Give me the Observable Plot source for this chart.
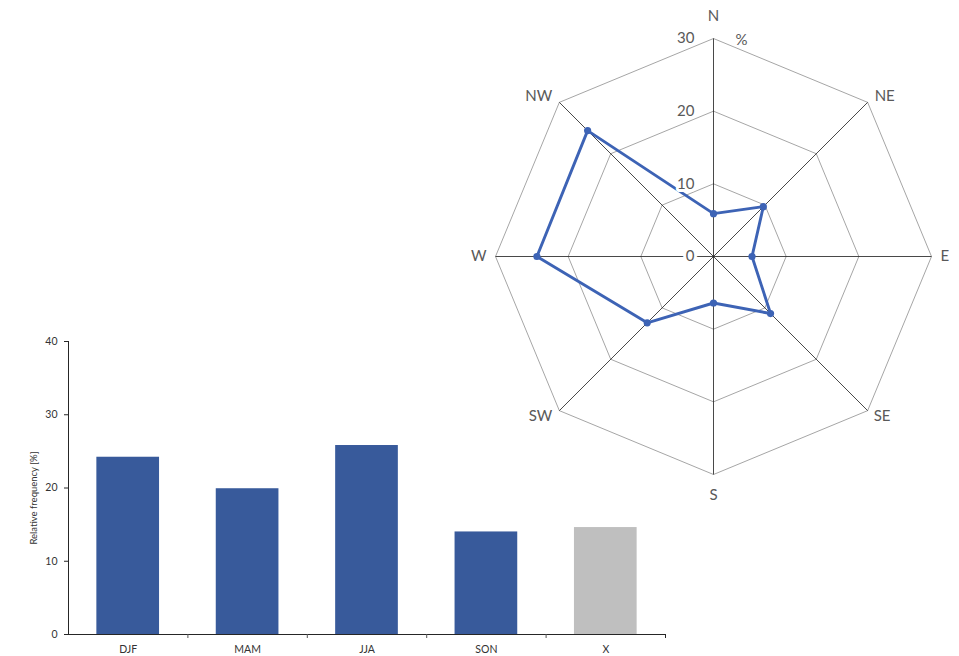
<!DOCTYPE html>
<html><head><meta charset="utf-8">
<script src="https://cdn.jsdelivr.net/npm/d3@7"></script>
<script src="https://cdn.jsdelivr.net/npm/@observablehq/plot@0.6"></script>
<style>
html,body{margin:0;padding:0;background:#fff;}
#wrap{position:relative;width:959px;height:656px;overflow:hidden;background:#fff;}
#bar{position:absolute;left:0;top:330px;}
#radar{position:absolute;left:440px;top:0;}
svg{overflow:visible;}
</style></head>
<body><div id="wrap"><div id="bar"></div><div id="radar"></div></div>
<script>
// ---- data ----
const directions = ["N", "NE", "E", "SE", "S", "SW", "W", "NW"];
const dirValues = [5.9, 9.7, 5.3, 11.1, 6.4, 12.9, 24.3, 24.5];
const ringLevels = [10, 20, 30];
const ringLabels = [0, 10, 20, 30];
const radarUnit = "%";

const seasons = ["DJF", "MAM", "JJA", "SON", "X"];
const seasonValues = [24.2, 19.9, 25.8, 14.0, 14.6];
const seasonColors = ["#385A9B", "#385A9B", "#385A9B", "#385A9B", "#BFBFBF"];
const yTicks = [0, 10, 20, 30, 40];
const yLabel = "Relative frequency [%]";

// ---- radar ----
const blue = "#3D63B5";
const ang = i => i * Math.PI / 4;
const polar = (v, i) => ({x: v * Math.sin(ang(i)), y: v * Math.cos(ang(i))});
const pts = directions.map((d, i) => ({dir: d, ...polar(dirValues[i], i)}));
const closed = pts.concat([pts[0]]);
const rings = ringLevels.flatMap(r =>
  directions.concat([directions[0]]).map((d, k) => ({ring: r, ...polar(r, k % 8)})));
const outer = ringLevels[ringLevels.length - 1];
const spokes = directions.map((d, i) => {
  const p = polar(outer, i);
  return {dir: d, x1: 0, y1: 0, x2: p.x, y2: p.y};
});
const labelStyle = {
  N: {textAnchor: "middle", dx: 0, dy: -22},
  NE: {textAnchor: "start", dx: 7, dy: -6},
  E: {textAnchor: "start", dx: 9, dy: 0},
  SE: {textAnchor: "start", dx: 6, dy: 6},
  S: {textAnchor: "middle", dx: 0, dy: 21},
  SW: {textAnchor: "end", dx: -7, dy: 6},
  W: {textAnchor: "end", dx: -9, dy: 0},
  NW: {textAnchor: "end", dx: -7, dy: -6}
};
const labelPts = directions.map((d, i) => ({dir: d, ...polar(outer, i)}));
const textCol = "#595959";
const font = "Lato, 'Open Sans', sans-serif";

const radar = Plot.plot({
  width: 519, height: 520,
  marginTop: 0, marginBottom: 0, marginLeft: 0, marginRight: 0,
  x: {domain: [-30, 30], range: [55, 491], axis: null},
  y: {domain: [-30, 30], range: [474, 38], axis: null},
  style: {background: "transparent", fontFamily: font, fontSize: "15px", overflow: "visible"},
  marks: [
    Plot.line(rings, {x: "x", y: "y", z: "ring", stroke: "#A6A6A6", strokeWidth: 1}),
    Plot.link(spokes, {x1: "x1", y1: "y1", x2: "x2", y2: "y2", stroke: "#1a1a1a", strokeWidth: 0.8}),
    Plot.line(closed, {x: "x", y: "y", stroke: blue, strokeWidth: 2.9, strokeLinejoin: "round"}),
    Plot.dot(pts, {x: "x", y: "y", r: 3.6, fill: blue, stroke: "none"}),
    Plot.text(ringLabels, {x: 0, y: d => d, text: d => String(d), textAnchor: "end", dx: -19,
      fill: textCol, stroke: "white", strokeWidth: 6, paintOrder: "stroke", fontSize: 15}),
    Plot.text([radarUnit], {x: 0, y: outer, text: d => d, dx: 28, dy: 2, fill: textCol, fontSize: 15}),
    ...labelPts.map(p => Plot.text([p], {x: "x", y: "y", text: "dir", fill: textCol, fontSize: 15,
      ...labelStyle[p.dir]}))
  ]
});
document.getElementById("radar").appendChild(radar);

// ---- bar chart ----
const bw = 680, bml = 68, bmr = 15;
const halfStep = (bw - bml - bmr) / seasons.length / 2;
const axisCol = "#262626";
const bars = Plot.plot({
  width: bw, height: 326,
  marginLeft: bml, marginRight: bmr, marginTop: 11, marginBottom: 22,
  x: {domain: seasons, paddingInner: 0.475, paddingOuter: 0.2375, round: false, axis: null},
  y: {domain: [0, 40], axis: null},
  color: {type: "identity"},
  style: {background: "transparent", fontFamily: font, fontSize: "10.5px", color: "#333", overflow: "visible"},
  marks: [
    Plot.barY(seasons, {x: d => d, y: (d, i) => seasonValues[i], fill: (d, i) => seasonColors[i]}),
    Plot.ruleY([0], {stroke: axisCol, strokeWidth: 1}),
    Plot.ruleX([seasons[0]], {x: d => d, y1: 0, y2: 40, dx: -halfStep, stroke: axisCol}),
    Plot.ruleX(seasons.slice(1), {x: d => d, y1: 0, y2: 0, dx: -halfStep, insetBottom: -4, stroke: "#555"}),
    Plot.ruleX([seasons[seasons.length - 1]], {x: d => d, y1: 0, y2: 0, dx: halfStep, insetBottom: -4, stroke: axisCol}),
    Plot.axisY({ticks: yTicks, tickSize: 4, tickPadding: 7, label: null, stroke: axisCol, fill: "#333", fontSize: 10.5}),
    Plot.axisX({tickSize: 0, tickPadding: 11, label: null, fill: "#333", fontSize: 10.5}),
    Plot.text([yLabel], {frameAnchor: "left", textAnchor: "middle", text: d => d, rotate: -90, dx: -35, dy: 10, fontSize: 9.5, fill: "#333"})
  ]
});
document.getElementById("bar").appendChild(bars);
</script>
</body></html>
